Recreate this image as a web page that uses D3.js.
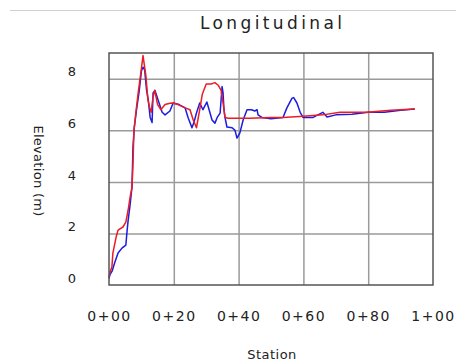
<!DOCTYPE html>
<html>
<head>
<meta charset="utf-8">
<script src="https://cdn.jsdelivr.net/npm/d3@7"></script>
<style>
	body { margin: 0; background: #fff; }
	svg { display: block; }
	text { font-family: 'DejaVu Sans', sans-serif; fill: #222; }
</style>
</head>
<body>
<div id="chart"></div>
<script>
// red profile
const redStation = [0, 0.3, 0.9, 1.2, 2.2, 2.8, 4.3, 5.2, 5.9, 6.5, 7.1, 7.4, 7.7, 8.3, 9.0, 9.9, 10.5, 11.4, 12.0, 12.5, 13.0, 13.6, 14.1, 15.0, 16.0, 17.3, 18.8, 19.8, 21.3, 23.5, 25.0, 26.0, 27.0, 28.0, 28.8, 30.0, 31.5, 32.7, 33.7, 34.6, 35.2, 35.8, 36.8, 43.5, 50, 53.7, 60, 66, 71.3, 79.6, 87, 94.4];
const redElev = [0.3, 0.5, 0.7, 1.24, 1.86, 2.13, 2.25, 2.44, 2.9, 3.4, 3.8, 4.7, 6.0, 6.7, 7.45, 8.3, 8.9, 8.1, 7.2, 6.9, 6.7, 7.3, 7.55, 7.0, 6.8, 7.0, 7.05, 7.06, 7.0, 6.87, 6.8, 6.4, 6.1, 6.8, 7.4, 7.8, 7.8, 7.85, 7.75, 7.55, 7.06, 6.5, 6.47, 6.47, 6.5, 6.5, 6.55, 6.6, 6.7, 6.7, 6.78, 6.83];

// blue profile
const blueStation = [0, 0.3, 1.0, 1.85, 2.8, 4.0, 5.2, 5.6, 5.9, 6.5, 7.1, 7.4, 7.8, 8.5, 9.3, 10.0, 10.5, 11.0, 11.6, 12.1, 12.7, 13.3, 13.6, 14.2, 15.1, 16.4, 17.3, 18.8, 19.8, 21.6, 23.5, 24.4, 25.6, 26.2, 27.0, 28.0, 29.0, 30.2, 30.9, 31.8, 32.7, 33.4, 34.3, 34.9, 35.2, 35.5, 35.8, 36.4, 38.0, 38.9, 39.5, 40.4, 41.4, 42.6, 44.0, 45.0, 45.7, 46.0, 47.2, 50, 53.7, 54.9, 56.5, 57.0, 58.0, 59.0, 59.9, 63, 66, 67.3, 70, 75, 80, 85, 90, 94.4];
const blueElev = [0.25, 0.4, 0.55, 0.9, 1.24, 1.43, 1.55, 2.13, 2.5, 3.1, 3.8, 5.35, 6.1, 6.8, 7.5, 8.3, 8.45, 8.35, 7.55, 7.2, 6.5, 6.3, 7.45, 7.55, 7.2, 6.7, 6.6, 6.75, 7.06, 7.0, 6.87, 6.5, 6.1, 6.3, 6.67, 7.06, 6.8, 7.1, 6.8, 6.4, 6.28, 6.5, 6.67, 7.7, 7.45, 6.8, 6.5, 6.13, 6.1, 6.0, 5.7, 5.9, 6.4, 6.8, 6.8, 6.75, 6.8, 6.6, 6.5, 6.45, 6.5, 6.87, 7.25, 7.27, 7.06, 6.7, 6.5, 6.5, 6.7, 6.52, 6.6, 6.62, 6.7, 6.7, 6.78, 6.83];

const xTicks = [0, 20, 40, 60, 80, 100];
const yTicks = [0, 2, 4, 6, 8];

let width = 456, height = 363,
	plot = {left: 109, right: 433, top: 53, bottom: 285};

let x = d3.scaleLinear().domain([0, 100]).range([plot.left, plot.right]),
	y = d3.scaleLinear().domain([0, 9]).range([plot.bottom, plot.top]);

let svg = d3.select('#chart').append('svg')
	.attr('width', width)
	.attr('height', height);

// thin rule at the top
svg.append('line')
	.attr('x1', 10).attr('x2', width)
	.attr('y1', 10.5).attr('y2', 10.5)
	.style('stroke', '#d0d0d0')
	.style('stroke-width', 1);

svg.append('text')
	.attr('x', 271)
	.attr('y', 29)
	.attr('text-anchor', 'middle')
	.attr('textLength', 142)
	.attr('lengthAdjust', 'spacing')
	.style('font-size', '17px')
	.text('Longitudinal');

// grid
svg.append('g')
	.attr('class', 'grid x--grid')
	.attr('transform', `translate(0, ${plot.bottom})`)
	.call(d3.axisBottom(x).tickValues(xTicks.slice(1, -1)).tickSize(-(plot.bottom - plot.top)).tickFormat(''))
	.call(g => g.select('.domain').remove());

svg.append('g')
	.attr('class', 'grid y--grid')
	.attr('transform', `translate(${plot.left}, 0)`)
	.call(d3.axisLeft(y).tickValues(yTicks.slice(1)).tickSize(-(plot.right - plot.left)).tickFormat(''))
	.call(g => g.select('.domain').remove());

svg.selectAll('.grid line')
	.style('stroke', '#9a9a9a')
	.style('stroke-width', 1.5);

// profiles
let line = d3.line().x(d => x(d[0])).y(d => y(d[1]));

svg.append('path')
	.datum(d3.zip(blueStation, blueElev))
	.attr('d', line)
	.style('fill', 'none')
	.style('stroke', '#1c1ce0')
	.style('stroke-width', 1.5)
	.style('stroke-linejoin', 'round');

svg.append('path')
	.datum(d3.zip(redStation, redElev))
	.attr('d', line)
	.style('fill', 'none')
	.style('stroke', '#ec1c24')
	.style('stroke-width', 1.5)
	.style('stroke-linejoin', 'round');

// frame
svg.append('rect')
	.attr('x', plot.left)
	.attr('y', plot.top)
	.attr('width', plot.right - plot.left)
	.attr('height', plot.bottom - plot.top)
	.style('fill', 'none')
	.style('stroke', '#555')
	.style('stroke-width', 1.5);

// axis labels
let stationFormat = d => Math.floor(d / 100) + '+' + String(d % 100).padStart(2, '0');

svg.append('g')
	.attr('class', 'axis x--axis')
	.attr('transform', `translate(0, ${plot.bottom})`)
	.call(d3.axisBottom(x).tickValues(xTicks).tickSize(0).tickPadding(26).tickFormat(stationFormat))
	.call(g => g.select('.domain').remove());

svg.append('g')
	.attr('class', 'axis y--axis')
	.attr('transform', 'translate(72, -7)')
	.call(d3.axisLeft(y).tickValues(yTicks).tickSize(0).tickPadding(0))
	.call(g => g.select('.domain').remove())
	.selectAll('text')
	.attr('text-anchor', 'middle');

svg.selectAll('.axis .tick text')
	.style('font-family', "'DejaVu Sans', sans-serif")
	.style('fill', '#222');
svg.selectAll('.x--axis text').style('font-size', '14px').style('letter-spacing', '1.5px');
svg.selectAll('.y--axis text').style('font-size', '13px');

svg.append('text')
	.attr('x', 272)
	.attr('y', 359)
	.attr('text-anchor', 'middle')
	.style('font-size', '13px')
	.style('letter-spacing', '0.5px')
	.text('Station');

svg.append('text')
	.attr('transform', 'translate(34, 171) rotate(90)')
	.attr('text-anchor', 'middle')
	.style('font-size', '13px')
	.style('letter-spacing', '0.3px')
	.text('Elevation (m)');
</script>
</body>
</html>
